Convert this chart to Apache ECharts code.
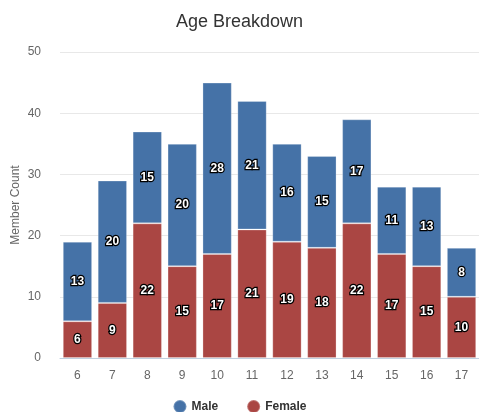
<!DOCTYPE html>
<html><head><meta charset="utf-8">
<script src="https://cdn.jsdelivr.net/npm/echarts@6/dist/echarts.min.js"></script>
<style>html,body{margin:0;padding:0;background:#fff}#c{width:479px;height:412px}</style>
</head><body><div id="c"></div>
<script>
const categories = ['6','7','8','9','10','11','12','13','14','15','16','17'];
const male = [13,20,15,20,28,21,16,15,17,11,13,8];
const female = [6,9,22,15,17,21,19,18,22,17,15,10];
const yTicks = [0,10,20,30,40,50];

const chart = echarts.init(document.getElementById('c'), null, {renderer:'canvas'});
const lbl = {show:true, position:'inside', color:'#fff', fontWeight:'bold', fontSize:12,
  fontFamily:'Liberation Sans, Arial, sans-serif', textBorderColor:'#000', textBorderWidth:2.5};
chart.setOption({
  animation:false,
  title:{text:'Age Breakdown', left:'center', top:8,
    textStyle:{fontSize:18, fontWeight:'normal', color:'#333', fontFamily:'Liberation Sans, Arial, sans-serif'}},
  legend:{top:394, left:'center', itemGap:28, icon:'circle', itemWidth:13, itemHeight:13,
    data:['Male','Female'],
    textStyle:{fontSize:12, fontWeight:'bold', color:'#333', fontFamily:'Liberation Sans, Arial, sans-serif'}},
  grid:{left:60, width:419, top:52, height:306, outerBoundsMode:'none'},
  xAxis:{type:'category', data:categories,
    axisLine:{lineStyle:{color:'#C0D0E0'}}, axisTick:{show:false},
    axisLabel:{color:'#666', fontSize:12, margin:12, fontFamily:'Liberation Sans, Arial, sans-serif'}},
  yAxis:{type:'value', min:yTicks[0], max:yTicks[yTicks.length-1], interval:10,
    name:'Member Count', nameLocation:'middle', nameGap:38, nameRotate:90, nameMoveOverlap:false,
    nameTextStyle:{color:'#666', fontSize:12, fontFamily:'Liberation Sans, Arial, sans-serif'},
    axisLine:{show:false}, axisTick:{show:false},
    axisLabel:{color:'#666', fontSize:12, margin:19, fontFamily:'Liberation Sans, Arial, sans-serif'},
    splitLine:{lineStyle:{color:'#E8E8E8'}}},
  series:[
    {name:'Female', type:'bar', stack:'a', data:female, barCategoryGap:'16%',
      itemStyle:{color:'#AA4643', borderColor:'rgba(255,255,255,0.25)', borderWidth:1}, label:lbl, z:2},
    {name:'Male', type:'bar', stack:'a', data:male, barCategoryGap:'16%',
      itemStyle:{color:'#4572A7', borderColor:'rgba(255,255,255,0.25)', borderWidth:1}, label:lbl, z:2}
  ],
  color:['#AA4643','#4572A7']
});
</script></body></html>
